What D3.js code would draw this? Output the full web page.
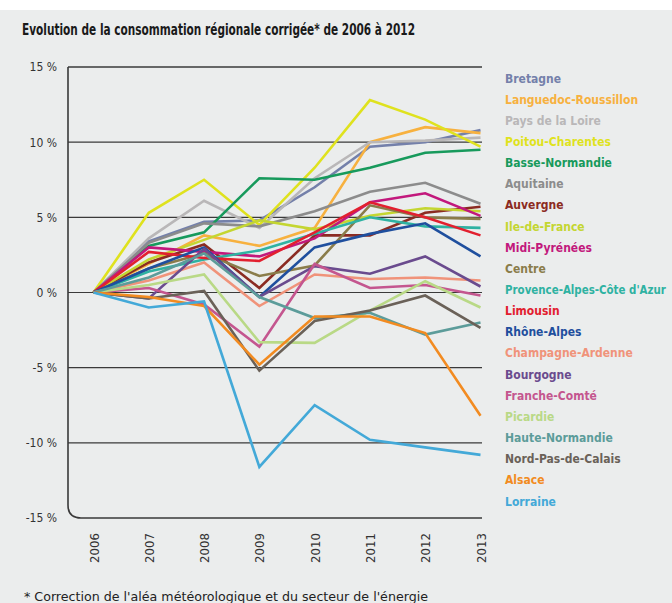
<!DOCTYPE html>
<html>
<head>
<meta charset="utf-8">
<script src="https://cdn.jsdelivr.net/npm/d3@7"></script>
<style>
  html, body { margin: 0; padding: 0; background: #ffffff; }
  svg { display: block; }
  text { font-family: "Liberation Sans Narrow", "DejaVu Sans Condensed", "Arial Narrow", sans-serif; }
</style>
</head>
<body>
<svg id="chart" width="672" height="603"></svg>
<script>
const years = ["2006", "2007", "2008", "2009", "2010", "2011", "2012", "2013"];
const yTicks = [15, 10, 5, 0, -5, -10, -15];
const regions = ["Bretagne", "Languedoc-Roussillon", "Pays de la Loire", "Poitou-Charentes", "Basse-Normandie", "Aquitaine", "Auvergne", "Ile-de-France", "Midi-Pyrénées", "Centre", "Provence-Alpes-Côte d'Azur", "Limousin", "Rhône-Alpes", "Champagne-Ardenne", "Bourgogne", "Franche-Comté", "Picardie", "Haute-Normandie", "Nord-Pas-de-Calais", "Alsace", "Lorraine"];
const colors = ["#7480aa", "#f7b13f", "#b9b7b8", "#dfe21e", "#179a5c", "#8c8c8c", "#8b2b22", "#c4d631", "#c2187c", "#8a7c4a", "#2fb2a2", "#e2202f", "#1f4f9e", "#f0937a", "#6a4b8e", "#c4568f", "#b9d986", "#5c9c9a", "#6a6158", "#f28b21", "#43a9d8"];

const bretagne = [0, 3.4, 4.7, 4.8, 7.0, 9.7, 10.0, 10.8];
const languedocRoussillon = [0, 1.9, 3.8, 3.1, 4.3, 10.0, 11.0, 10.6];
const paysDeLaLoire = [0, 3.6, 6.1, 4.3, 7.6, 10.0, 10.1, 10.3];
const poitouCharentes = [0, 5.3, 7.5, 4.5, 8.3, 12.8, 11.5, 9.7];
const basseNormandie = [0, 3.1, 4.0, 7.6, 7.5, 8.3, 9.3, 9.5];
const aquitaine = [0, 3.3, 4.6, 4.4, 5.4, 6.7, 7.3, 5.9];
const auvergne = [0, 2.0, 3.2, 0.3, 3.8, 3.8, 5.3, 5.7];
const ileDeFrance = [0, 2.2, 3.5, 4.8, 4.2, 5.1, 5.6, 5.4];
const midiPyrenees = [0, 3.0, 2.7, 2.4, 3.6, 6.0, 6.6, 5.1];
const centre = [0, 1.6, 2.6, 1.1, 1.8, 5.8, 5.0, 4.9];
const paca = [0, 1.4, 2.2, 2.8, 3.9, 5.0, 4.4, 4.3];
const limousin = [0, 2.7, 2.3, 2.1, 4.0, 6.0, 5.0, 3.8];
const rhoneAlpes = [0, 1.6, 3.0, -0.3, 3.0, 3.9, 4.6, 2.4];
const champagneArdenne = [0, 0.8, 2.0, -0.9, 1.2, 0.9, 1.0, 0.8];
const bourgogne = [0, -0.4, 2.9, -0.3, 1.75, 1.25, 2.4, 0.4];
const francheComte = [0, 0.3, -0.8, -3.6, 1.9, 0.3, 0.5, -0.2];
const picardie = [0, 0.5, 1.2, -3.3, -3.35, -1.2, 0.75, -1.0];
const hauteNormandie = [0, 1.0, 2.6, -0.3, -1.7, -1.35, -2.8, -2.0];
const nordPasDeCalais = [0, -0.4, 0.1, -5.2, -1.9, -1.2, -0.2, -2.35];
const alsace = [0, -0.3, -0.9, -4.8, -1.6, -1.6, -2.7, -8.2];
const lorraine = [0, -1.0, -0.6, -11.6, -7.5, -9.8, -10.3, -10.8];

const seriesValues = [bretagne, languedocRoussillon, paysDeLaLoire, poitouCharentes, basseNormandie, aquitaine, auvergne, ileDeFrance, midiPyrenees, centre, paca, limousin, rhoneAlpes, champagneArdenne, bourgogne, francheComte, picardie, hauteNormandie, nordPasDeCalais, alsace, lorraine];

const title = "Evolution de la consommation régionale corrigée* de 2006 à 2012";
const footnote = "* Correction de l'aléa météorologique et du secteur de l'énergie";

(function () {
const svg = d3.select("#chart");
const W = 672, H = 603;

svg.append("rect").attr("x", 0).attr("y", 10).attr("width", W).attr("height", H - 10).attr("fill", "#ebeded");

const pLeft = 68, pRight = 482, pTop = 67, pBottom = 518;
const x = d3.scalePoint().domain(years).range([93.5, 480.5]);
const y = d3.scaleLinear().domain([-15, 15]).range([pBottom, pTop]);

svg.append("text").attr("x", 22).attr("y", 35)
  .attr("font-size", 16).attr("font-weight", "bold").attr("fill", "#1a1a1a")
  .attr("textLength", 393).attr("lengthAdjust", "spacingAndGlyphs")
  .text(title);

svg.append("g").selectAll("line").data(yTicks.filter(d => d > -15)).join("line")
  .attr("x1", pLeft).attr("x2", pRight)
  .attr("y1", d => y(d)).attr("y2", d => y(d))
  .attr("stroke", "#3a3a3a").attr("stroke-width", d => d === 15 ? 1.6 : 1.2);

const r = 13;
svg.append("path")
  .attr("d", `M${pLeft},${y(15)} V${y(-15) - r} Q${pLeft},${y(-15)} ${pLeft + r},${y(-15)} H${pRight}`)
  .attr("fill", "none").attr("stroke", "#3a3a3a").attr("stroke-width", 1.6);

const yAxis = d3.axisLeft(y).tickValues(yTicks).tickSize(0).tickPadding(0)
  .tickFormat(d => (d < 0 ? "-" + Math.abs(d) : d) + " %");
const gy = svg.append("g").attr("transform", `translate(57,0)`).call(yAxis);
gy.select(".domain").remove();
gy.attr("font-family", null);
gy.selectAll("text").attr("font-size", 12).attr("fill", "#333");

const xAxis = d3.axisBottom(x).tickSize(0);
const gx = svg.append("g").attr("transform", `translate(0,548)`).call(xAxis);
gx.select(".domain").remove();
gx.attr("font-family", null);
gx.selectAll("text")
  .attr("transform", "rotate(-90)")
  .attr("x", 0).attr("y", 0).attr("dy", "0.35em")
  .attr("text-anchor", "middle")
  .attr("font-size", 13).attr("fill", "#333");

const line = d3.line().x((d, i) => x(years[i])).y(d => y(d));
svg.append("g").selectAll("path").data(seriesValues).join("path")
  .attr("d", d => line(d))
  .attr("fill", "none")
  .attr("stroke", (d, i) => colors[i])
  .attr("stroke-width", 2.6)
  .attr("stroke-linejoin", "miter");

const legX = 505, legMax = W - legX - 6, legFont = 12;
svg.append("g").selectAll("text").data(regions).join("text")
  .attr("x", legX).attr("y", (d, i) => 82.5 + i * 21.15)
  .attr("font-size", legFont).attr("font-weight", "bold")
  .attr("fill", (d, i) => colors[i])
  .text(d => d)
  .each(function () {
    const len = this.getComputedTextLength();
    if (len > legMax) {
      d3.select(this).attr("font-size", (legFont * legMax / len).toFixed(2));
    }
  });

svg.append("text").attr("x", 24).attr("y", 601)
  .attr("font-size", 13).attr("fill", "#222")
  .attr("textLength", 404).attr("lengthAdjust", "spacingAndGlyphs")
  .text(footnote);
})();
</script>
</body>
</html>
